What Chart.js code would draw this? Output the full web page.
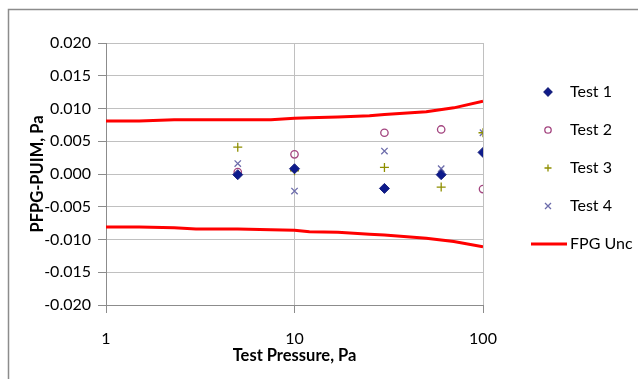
<!DOCTYPE html>
<html>
<head>
<meta charset="utf-8">
<script src="https://cdn.jsdelivr.net/npm/chart.js@4.4.1/dist/chart.umd.min.js"></script>
<style>
  html, body { margin: 0; padding: 0; background: #fff; }
  #wrap { width: 638px; height: 379px; position: relative; }
</style>
</head>
<body>
<div id="wrap"><canvas id="chart" width="638" height="379"></canvas></div>
<script>
// testtryck (Pa) och avvikelser
const pressures = [5, 10, 30, 60, 100];
const test1 = [-0.0001, 0.0008, -0.0022, -0.0001, 0.0033];
const test2 = [0.0003, 0.0030, 0.0063, 0.0068, -0.0023];
const test3 = [0.0041, 0.0005, 0.0010, -0.0020, 0.0063];
const test4 = [0.0016, -0.0026, 0.0035, 0.0008, 0.0063];

// osäkerhetskurva
const uncPressure = [1, 1.5, 2.3, 3, 5, 7.5, 10, 12, 17, 25, 30, 50, 70, 100];
const uncUpper = [0.0081, 0.0081, 0.0083, 0.0083, 0.0083, 0.0083, 0.0085, 0.0086, 0.0087, 0.0089, 0.0091, 0.0095, 0.0101, 0.0111];
const uncLower = [-0.0081, -0.0081, -0.0082, -0.0084, -0.0084, -0.0085, -0.0086, -0.0088, -0.0089, -0.0092, -0.0093, -0.0098, -0.0103, -0.0111];

const xTicks = [1, 10, 100];
const yMin = -0.02, yMax = 0.02, yStep = 0.005;

const toXY = (xs, ys) => xs.map((x, i) => ({ x: x, y: ys[i] }));
const font = 'Lato, "Open Sans", sans-serif';

// ram runt hela diagrammet
const framePlugin = {
    id: 'frame',
    beforeDraw(chart) {
        const ctx = chart.ctx;
        ctx.save();
        ctx.strokeStyle = '#8c8c8c';
        ctx.lineWidth = 1.5;
        ctx.strokeRect(8.5, 9.5, 640, 400);
        ctx.restore();
    }
};

// egen legend till höger
const legendPlugin = {
    id: 'sideLegend',
    afterDraw(chart) {
        const ctx = chart.ctx;
        const items = chart.data.datasets.filter(d => d.legendLabel);
        ctx.save();
        items.forEach((d, i) => {
            const y = 92 + i * 38;
            const mx = 548;
            ctx.strokeStyle = d.borderColor;
            ctx.fillStyle = d.backgroundColor;
            ctx.lineWidth = d.legendLine ? 3 : 1.3;
            ctx.beginPath();
            if (d.legendLine) {
                ctx.moveTo(531, y); ctx.lineTo(567, y); ctx.stroke();
            } else if (d.pointStyle === 'rectRot') {
                ctx.moveTo(mx, y - 4); ctx.lineTo(mx + 4, y); ctx.lineTo(mx, y + 4); ctx.lineTo(mx - 4, y); ctx.closePath();
                ctx.fill(); ctx.stroke();
            } else if (d.pointStyle === 'circle') {
                ctx.arc(mx, y, 3.2, 0, Math.PI * 2); ctx.stroke();
            } else if (d.pointStyle === 'cross') {
                ctx.moveTo(mx - 3.5, y); ctx.lineTo(mx + 3.5, y); ctx.moveTo(mx, y - 3.5); ctx.lineTo(mx, y + 3.5); ctx.stroke();
            } else {
                ctx.moveTo(mx - 3, y - 3); ctx.lineTo(mx + 3, y + 3); ctx.moveTo(mx + 3, y - 3); ctx.lineTo(mx - 3, y + 3); ctx.stroke();
            }
            ctx.fillStyle = '#000';
            ctx.font = '16px ' + font;
            ctx.textBaseline = 'middle';
            ctx.fillText(d.legendLabel, 570, y);
        });
        ctx.restore();
    }
};

new Chart(document.getElementById('chart'), {
    type: 'scatter',
    data: {
        datasets: [
            { label: 'Test 1', legendLabel: 'Test 1', data: toXY(pressures, test1), pointStyle: 'rectRot', pointRadius: 5, borderColor: '#1a237e', backgroundColor: '#0d1a8c', borderWidth: 1 },
            { label: 'Test 2', legendLabel: 'Test 2', data: toXY(pressures, test2), pointStyle: 'circle', pointRadius: 3.7, borderColor: '#a3447f', backgroundColor: 'rgba(0,0,0,0)', borderWidth: 1.3 },
            { label: 'Test 3', legendLabel: 'Test 3', data: toXY(pressures, test3), pointStyle: 'cross', pointRadius: 4.5, borderColor: '#8f8f00', backgroundColor: '#8f8f00', borderWidth: 1.3 },
            { label: 'Test 4', legendLabel: 'Test 4', data: toXY(pressures, test4), pointStyle: 'crossRot', pointRadius: 4.5, borderColor: '#6c6cab', backgroundColor: '#6c6cab', borderWidth: 1.3 },
            { label: 'FPG Unc', legendLabel: 'FPG Unc', legendLine: true, data: toXY(uncPressure, uncUpper), showLine: true, pointRadius: 0, borderColor: '#ff0000', backgroundColor: '#ff0000', borderWidth: 3 },
            { label: 'FPG Unc (nedre)', data: toXY(uncPressure, uncLower), showLine: true, pointRadius: 0, borderColor: '#ff0000', backgroundColor: '#ff0000', borderWidth: 3 }
        ]
    },
    options: {
        responsive: false,
        animation: false,
        layout: { padding: { left: 10, top: 43, right: 155, bottom: 0 } },
        plugins: {
            legend: { display: false },
            tooltip: { enabled: false }
        },
        scales: {
            x: {
                type: 'logarithmic',
                min: 1,
                max: 100,
                afterBuildTicks: scale => { scale.ticks = xTicks.map(v => ({ value: v })); },
                afterFit: scale => { scale.height = 74; },
                ticks: {
                    callback: v => String(v),
                    color: '#000',
                    font: { family: font, size: 16 },
                    padding: 16,
                    maxRotation: 0
                },
                grid: { color: '#c0c0c0', tickColor: '#8c8c8c', tickLength: 8, lineWidth: 1 },
                border: { color: '#8c8c8c', width: 1 },
                title: {
                    display: true,
                    text: 'Test Pressure, Pa',
                    color: '#000',
                    font: { family: font, size: 16.5, weight: 'bold' },
                    padding: { top: 0, bottom: 13 }
                }
            },
            y: {
                min: yMin,
                max: yMax,
                afterFit: scale => { scale.width = 96; },
                ticks: {
                    stepSize: yStep,
                    callback: v => v.toFixed(3),
                    color: '#000',
                    font: { family: font, size: 16 },
                    padding: 7
                },
                grid: { color: '#c0c0c0', tickColor: '#8c8c8c', tickLength: 8, lineWidth: 1 },
                border: { color: '#8c8c8c', width: 1 },
                title: {
                    display: true,
                    text: 'PFPG-PUIM, Pa',
                    color: '#000',
                    font: { family: font, size: 16.5, weight: 'bold' },
                    padding: { top: 18, bottom: 0 }
                }
            }
        }
    },
    plugins: [framePlugin, legendPlugin]
});
</script>
</body>
</html>
